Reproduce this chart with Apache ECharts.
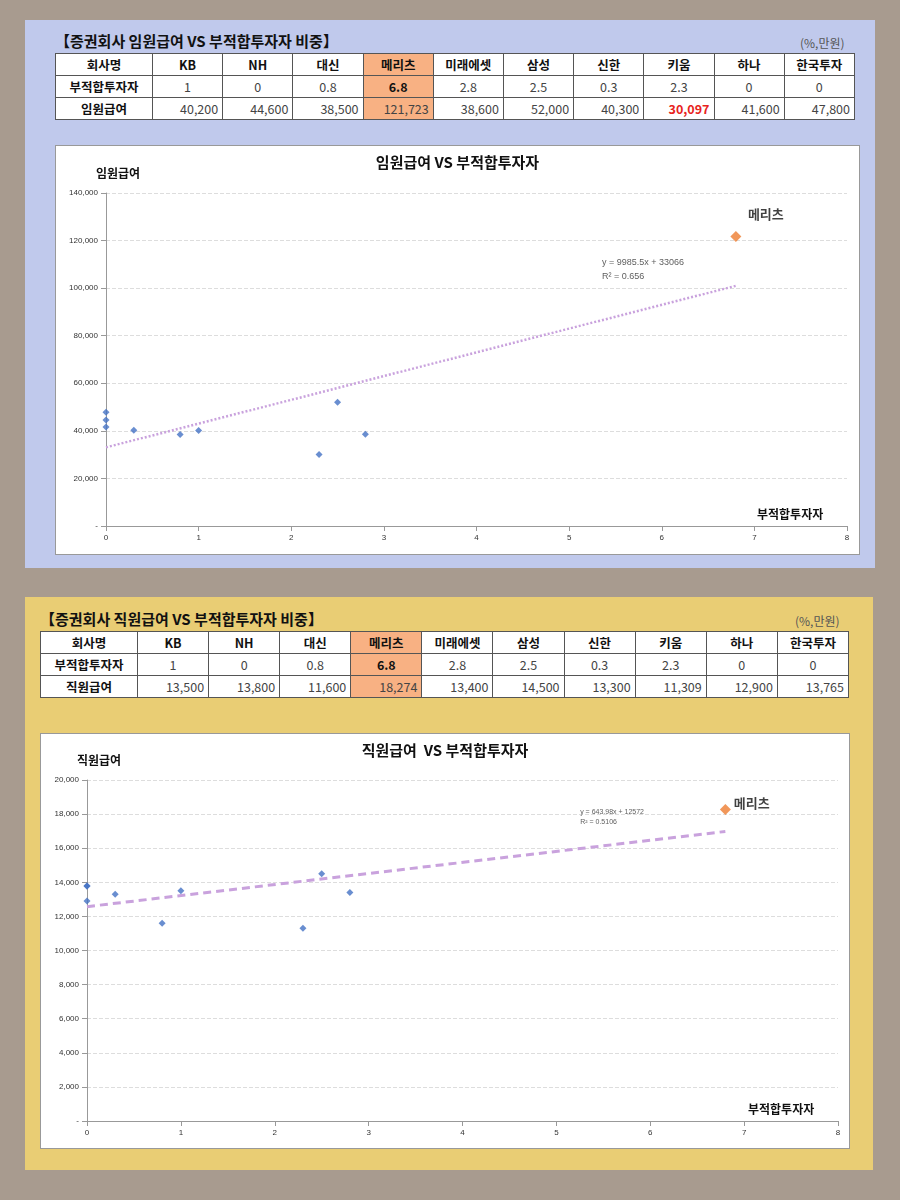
<!DOCTYPE html>
<html><head><meta charset="utf-8">
<script src="https://cdn.jsdelivr.net/npm/echarts@6/dist/echarts.min.js"></script>
<style>
body{margin:0;width:900px;height:1200px;background:#a89b8f;position:relative;font-family:"Noto Sans CJK KR","Noto Sans",sans-serif;overflow:hidden}
.panel{position:absolute}
.title{position:absolute;font-weight:bold;font-size:15px;color:#111}
.unit{position:absolute;font-size:12px;color:#555}
table{position:absolute;border-collapse:collapse;background:#fff;font-size:12.5px;table-layout:fixed}
td{border:1px solid #555;text-align:center;height:21px;padding:0;color:#444}
td.h{font-weight:bold;color:#111}
.box{position:absolute;background:#fff;border:1px solid #999}
</style></head><body>
<div class="panel" style="left:25px;top:20px;width:850px;height:548px;background:#c0c9ec"></div>
<div class="title" style="left:55px;top:30px">【증권회사 임원급여 VS 부적합투자자 비중】</div>
<div class="unit" style="left:800px;top:34px">(%,만원)</div>
<table id="t1" style="left:55px;top:53px;width:800px"></table>
<div class="box" id="c1" style="left:55px;top:145px;width:803px;height:408px"></div>

<div class="panel" style="left:25px;top:597px;width:848px;height:573px;background:#e9cd74"></div>
<div class="title" style="left:40px;top:608px">【증권회사 직원급여 VS 부적합투자자 비중】</div>
<div class="unit" style="left:795px;top:612px">(%,만원)</div>
<table id="t2" style="left:40px;top:631px;width:809px"></table>
<div class="box" id="c2" style="left:40px;top:733px;width:808px;height:414px"></div>
<script>
const companies=["KB","NH","대신","메리츠","미래에셋","삼성","신한","키움","하나","한국투자"];
const ratio=[1,0,0.8,6.8,2.8,2.5,0.3,2.3,0,0];
const execPay=[40200,44600,38500,121723,38600,52000,40300,30097,41600,47800];
const staffPay=[13500,13800,11600,18274,13400,14500,13300,11309,12900,13765];
const trend1=[[0,33066],[6.8,100969]];
const trend2=[[0,12572],[6.8,16982]];
const fmt=v=>v.toLocaleString('en-US');
const FF='Noto Sans CJK KR';
function table(id,label,pay,redIdx){
  let h='<colgroup><col style="width:97px">'+companies.map(()=>'<col>').join('')+'</colgroup>';
  h+='<tr><td class="h">회사명</td>'+companies.map((c,i)=>`<td class="h" style="${i==3?'background:#f8b183':''}">${c}</td>`).join('')+'</tr>';
  h+='<tr><td class="h">부적합투자자</td>'+ratio.map((c,i)=>`<td style="${i==3?'background:#f8b183;font-weight:bold;color:#111':''}">${c}</td>`).join('')+'</tr>';
  h+=`<tr><td class="h">${label}</td>`+pay.map((c,i)=>`<td style="text-align:right;padding-right:4px;${i==3?'background:#f8b183;':''}${i==redIdx?'color:#e8231d;font-weight:bold':''}">${fmt(c)}</td>`).join('')+'</tr>';
  document.getElementById(id).innerHTML=h;
}
table('t1','임원급여',execPay,7);
table('t2','직원급여',staffPay,-1);
function chart(id,title,ylab,pay,ymax,yint,trend,eq,eqPos,grid,dashed){
  const c=echarts.init(document.getElementById(id));
  const pts=ratio.map((r,i)=>[r,pay[i]]);
  c.setOption({
    animation:false,
    title:{text:title,left:'center',top:4,textStyle:{fontSize:15,fontWeight:'bold',color:'#111',fontFamily:FF}},
    grid:Object.assign({containLabel:false,outerBoundsMode:'none'},grid),
    xAxis:{type:'value',min:0,max:8,interval:1,splitLine:{show:false},axisLine:{lineStyle:{color:'#999'}},axisTick:{show:true,lineStyle:{color:'#999'}},axisLabel:{fontSize:8,color:'#333'},
      name:'부적합투자자',nameLocation:'end',nameGap:-90,nameTextStyle:{fontSize:12,fontWeight:'bold',color:'#111',fontFamily:FF,verticalAlign:'bottom',padding:[0,0,6,0]}},
    yAxis:{type:'value',min:0,max:ymax,interval:yint,axisLine:{show:true,lineStyle:{color:'#999'}},axisTick:{show:true,lineStyle:{color:'#999'}},
      splitLine:{lineStyle:{type:'dashed',color:'#ddd'}},axisLabel:{fontSize:8,color:'#333',formatter:v=>v===0?'-':fmt(v)},
      name:ylab,nameGap:14,nameTextStyle:{fontSize:12,fontWeight:'bold',color:'#111',fontFamily:FF,align:'left',padding:[0,0,0,-10]}},
    series:[
      {type:'line',data:trend,symbol:'none',lineStyle:{color:'#c9a2dd',width:dashed?3:2.5,type:dashed?[8,5]:[2,2]},z:1},
      {type:'scatter',data:[eqPos],symbolSize:0,silent:true,
       label:{show:true,position:'right',formatter:eq,fontSize:dashed?7:9,color:'#333',lineHeight:dashed?10:14}},
      {type:'scatter',data:pts.filter((p,i)=>i!=3),symbol:'diamond',symbolSize:7,itemStyle:{color:'#4472c4'},z:3},
      {type:'scatter',data:[pts[3]],symbol:'diamond',symbolSize:11,itemStyle:{color:'#ed7d31'},z:3,
       label:{show:true,formatter:'메리츠',position:dashed?'right':'top',distance:dashed?3:10,offset:dashed?[0,-6]:[30,0],fontSize:13,fontWeight:'bold',color:'#111',fontFamily:FF}}
    ]
  });
}
chart('c1','임원급여 VS 부적합투자자','임원급여',execPay,140000,20000,trend1,'y = 9985.5x + 33066\nR² = 0.656',[5.3,108000],{left:50,right:12,top:47,bottom:28},false);
chart('c2','직원급여  VS 부적합투자자','직원급여',staffPay,20000,2000,trend2,'y = 643.98x + 12572\nR² = 0.5106',[5.2,17800],{left:46,right:11,top:46,bottom:27},true);
</script>
</body></html>
